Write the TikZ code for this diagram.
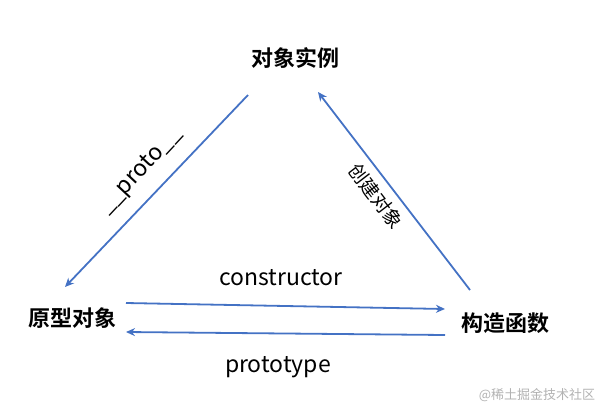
\documentclass[tikz,border=0pt]{standalone}
\usepackage{fontspec}
\setmainfont{Noto Sans CJK SC}[BoldFont={Noto Sans CJK SC Bold}]
\usetikzlibrary{arrows.meta}
\definecolor{arrblue}{RGB}{68,114,196}
\tikzset{
  obj/.style={font=\fontsize{22}{26}\selectfont\bfseries, inner sep=0pt},
  txt/.style={font=\fontsize{23}{27}\selectfont, inner sep=0pt},
  arr/.style={draw=arrblue, line width=1.8pt, -{Stealth[length=9pt,width=8pt]}},
}
\begin{document}
\begin{tikzpicture}[x=1pt,y=-1pt]
        \useasboundingbox (0,0) rectangle (597,408);
        % objects
        \node[obj] (inst) at (295,58) {对象实例};
        \node[obj] (proto) at (72,318) {原型对象};
        \node[obj] (ctor) at (505,323) {构造函数};
        % arrows
        \draw[arr] ([shift={(-47,37)}]inst.center) -- ([shift={(-7,-31)}]proto.center);
        \draw[arr] ([shift={(-35,-33)}]ctor.center) -- ([shift={(23,34)}]inst.center);
        \draw[arr] ([shift={(54,-15)}]proto.center) -- ([shift={(-60,-14)}]ctor.center);
        \draw[arr] ([shift={(-60,12)}]ctor.center) -- ([shift={(54,14)}]proto.center);
        % labels
        \node[txt, rotate=47] (lproto) at (141,171) {\_\_proto\_\_};
        \node[txt, rotate=-52.5, font=\fontsize{19}{23}\selectfont] (lnew) at (376,196) {创建对象};
        \node[txt] (lctor) at (281,278) {constructor};
        \node[txt] (ltype) at (278,367) {prototype};
        % watermark
        \node[txt, font=\fontsize{13}{15}\selectfont, text=black!30] (mark) at (537,395) {@稀土掘金技术社区};
\end{tikzpicture}
\end{document}
